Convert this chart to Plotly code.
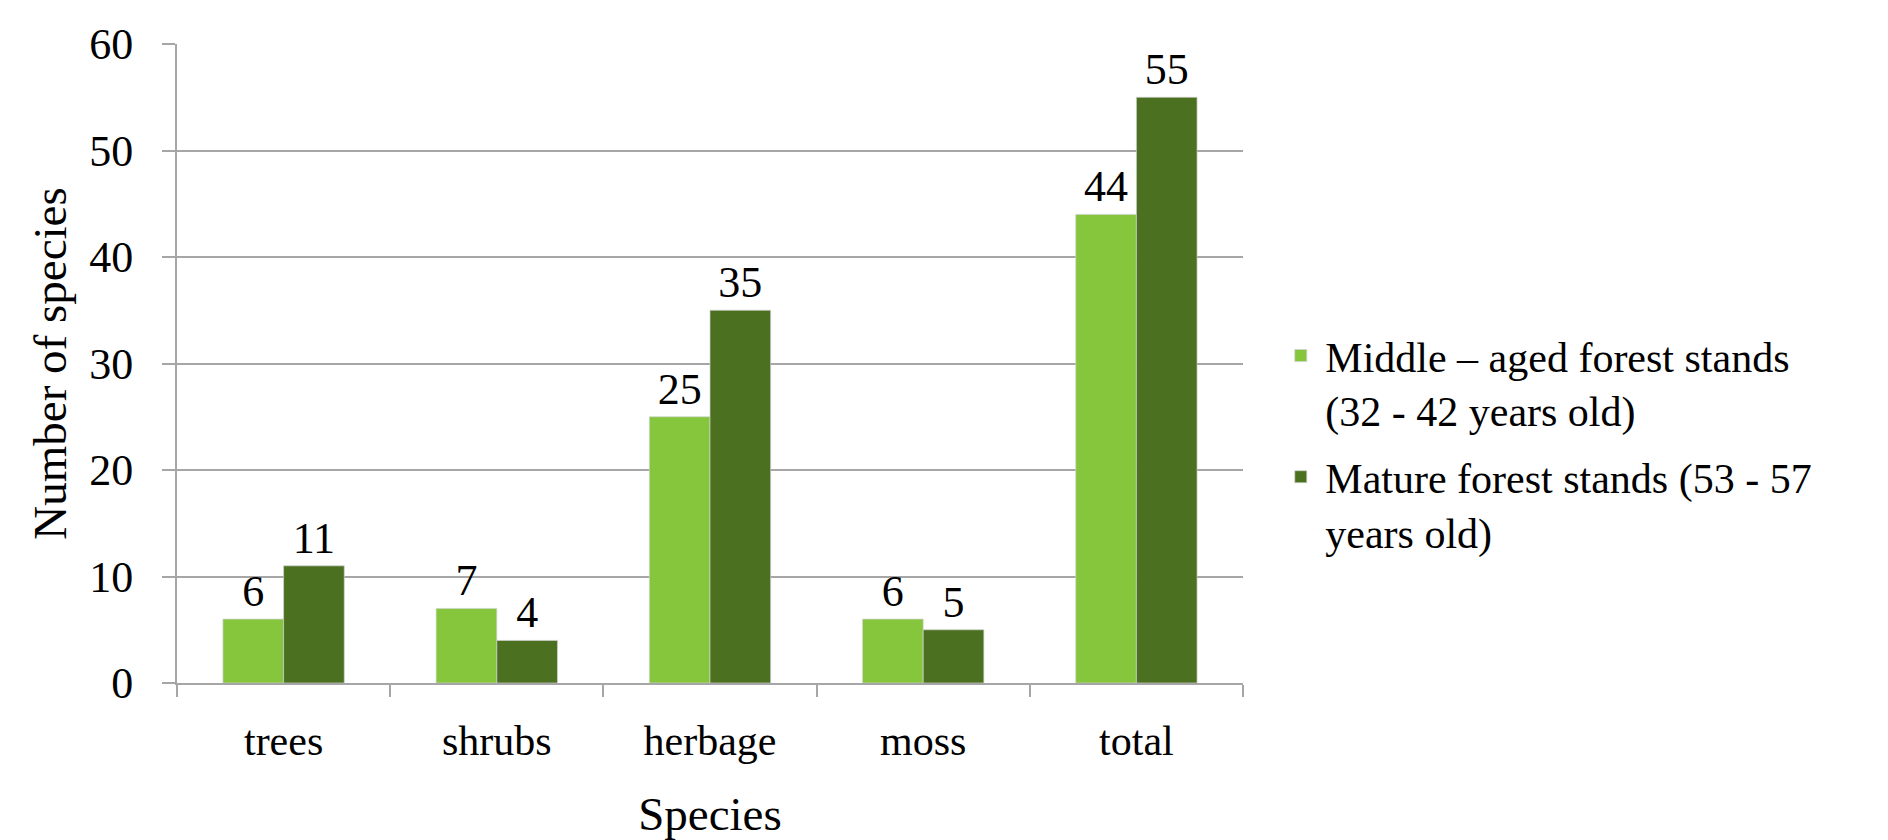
import plotly.graph_objects as go

categories = ["trees", "shrubs", "herbage", "moss", "total"]
middle_aged = [6, 7, 25, 6, 44]
mature = [11, 4, 35, 5, 55]
series_names = [
    "Middle – aged forest stands<br>(32 - 42 years old)",
    "Mature forest stands (53 - 57<br>years old)",
]
y_ticks = [0, 10, 20, 30, 40, 50, 60]

FONT = "Liberation Serif"
GRID = "#A6A6A6"

fig = go.Figure()
fig.add_trace(go.Bar(
    x=categories, y=middle_aged, name=series_names[0], legendgroup="a",
    marker=dict(color="#85C63C", line=dict(color="rgba(210,210,210,0.7)", width=1)),
    text=middle_aged, textposition="outside", cliponaxis=False,
    textfont=dict(family=FONT, size=44, color="black"),
))
fig.add_trace(go.Bar(
    x=categories, y=mature, name=series_names[1], legendgroup="b",
    marker=dict(color="#4A7020", line=dict(color="rgba(210,210,210,0.7)", width=1)),
    text=mature, textposition="outside", cliponaxis=False,
    textfont=dict(family=FONT, size=44, color="black"),
))

fig.update_layout(
    width=1888, height=840,
    margin=dict(l=177, r=645, t=44, b=157, autoexpand=False),
    paper_bgcolor="white", plot_bgcolor="white",
    barmode="group", bargap=0.431, bargroupgap=0,
    font=dict(family=FONT, color="black", size=40),
    showlegend=True,
    legend=dict(
        xref="container", yref="container",
        x=0.676, y=0.617, xanchor="left", yanchor="top",
        font=dict(family=FONT, size=42, color="black"),
        valign="top", traceorder="grouped", tracegroupgap=9, itemwidth=39,
        bgcolor="rgba(0,0,0,0)",
    ),
)
fig.update_xaxes(
    type="category", automargin=False,
    showline=True, linecolor=GRID, linewidth=2,
    ticks="outside", tickson="boundaries", ticklen=12, tickcolor=GRID, tickwidth=2,
    tickfont=dict(family=FONT, size=42), ticklabelstandoff=20,
    showgrid=False,
    title=dict(text="Species", font=dict(family=FONT, size=47), standoff=43),
)
fig.update_yaxes(
    range=[0, 60], tickvals=y_ticks, ticktext=[str(v) for v in y_ticks],
    automargin=False,
    showline=True, linecolor=GRID, linewidth=2,
    ticks="outside", ticklen=13, tickcolor=GRID, tickwidth=2,
    tickfont=dict(family=FONT, size=44), ticklabelstandoff=20,
    showgrid=True, gridcolor=GRID, gridwidth=2,
    zeroline=False,
    title=dict(text="Number of species", font=dict(family=FONT, size=47), standoff=8),
)

fig.write_html("out.html")
